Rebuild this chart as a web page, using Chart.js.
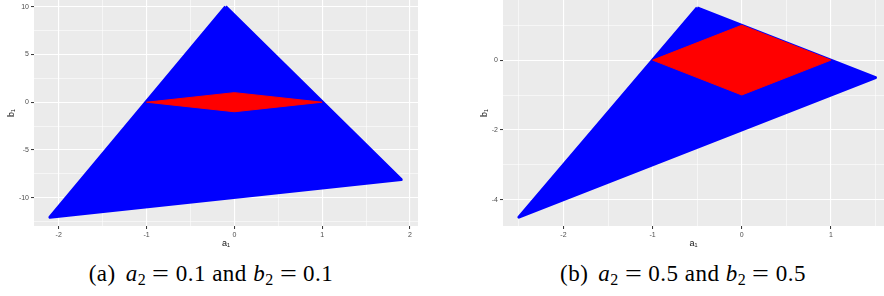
<!DOCTYPE html>
<html>
<head>
<meta charset="utf-8">
<script src="https://cdn.jsdelivr.net/npm/chart.js@4.4.0/dist/chart.umd.min.js"></script>
<style>
body { margin: 0; background: #fff; width: 884px; height: 296px; overflow: hidden; position: relative; }
canvas { position: absolute; top: 0; }
#chartA { left: 0; }
#chartB { left: 474px; }
.caption { position: absolute; top: 261px; font-family: "Liberation Serif", "DejaVu Serif", serif; font-size: 23px; letter-spacing: 0.5px; color: #000; text-align: center; white-space: nowrap; }
.caption sub { font-size: 16px; vertical-align: -4px; line-height: 0; }
.caption .eq { display: inline-block; margin: 0 8px; transform: scaleX(1.3); }
.caption .lbl { margin-right: 10px; }
#capA { left: 0; width: 422px; }
#capB { left: 474px; width: 418px; }
</style>
</head>
<body>
<canvas id="chartA" width="440" height="250"></canvas>
<canvas id="chartB" width="410" height="250"></canvas>
<div class="caption" id="capA"><span class="lbl">(a)</span><i>a</i><sub>2</sub><span class="eq">=</span>0.1 and <i>b</i><sub>2</sub><span class="eq">=</span>0.1</div>
<div class="caption" id="capB"><span class="lbl">(b)</span><i>a</i><sub>2</sub><span class="eq">=</span>0.5 and <i>b</i><sub>2</sub><span class="eq">=</span>0.5</div>
<script>
// panel (a): a2 = 0.1, b2 = 0.1
const xMajorA = [-2, -1, 0, 1, 2];
const xMinorA = [-1.5, -0.5, 0.5, 1.5];
const yMajorA = [-10, -5, 0, 5, 10];
const yMinorA = [-12.5, -7.5, -2.5, 2.5, 7.5];
const triXA = [-0.1, -2.1, 1.9];
const triYA = [10, -12.05, -8.1];

// panel (b): a2 = 0.5, b2 = 0.5
const xMajorB = [-2, -1, 0, 1];
const xMinorB = [-2.5, -1.5, -0.5, 0.5, 1.5];
const yMajorB = [-4, -2, 0];
const yMinorB = [-3, -1, 1];
const triXB = [-0.5, -2.5, 1.5];
const triYB = [1.5, -4.5, -0.5];

// red region, same in both panels
const diamondX = [-1, 0, 1, 0];
const diamondY = [0, 1, 0, -1];

function toPoints(xs, ys) {
    const pts = xs.map((x, i) => ({ x: x, y: ys[i] }));
    pts.push(pts[0]);
    return pts;
}

// ggplot grey panel
const panelBg = {
    id: 'panelBg',
    beforeDraw(chart) {
        const { ctx, chartArea: a } = chart;
        ctx.save();
        ctx.fillStyle = '#EBEBEB';
        ctx.fillRect(a.left, a.top, a.right - a.left, a.bottom - a.top);
        ctx.restore();
    }
};

function axis(major, minor, min, max, size, title, titlePad, horizontal) {
    const isMajor = c => c.tick && major.includes(c.tick.value);
    return {
        type: 'linear',
        min: min,
        max: max,
        border: { display: false },
        afterBuildTicks: s => {
            s.ticks = major.concat(minor).sort((p, q) => p - q).map(v => ({ value: v }));
        },
        afterFit: s => {
            if (horizontal) {
                s.height = size; s.paddingLeft = 0; s.paddingRight = 0;
            } else {
                s.width = size; s.paddingTop = 0; s.paddingBottom = 0;
            }
        },
        grid: {
            color: '#FFFFFF',
            lineWidth: c => isMajor(c) ? 1.1 : 0.55,
            tickColor: c => isMajor(c) ? '#333333' : 'rgba(0,0,0,0)',
            tickLength: 3,
            tickWidth: 1
        },
        ticks: {
            autoSkip: false,
            maxRotation: 0,
            padding: 2,
            color: '#4D4D4D',
            font: { family: 'Liberation Sans', size: 7 },
            callback: v => major.includes(v) ? String(v) : ''
        },
        title: {
            display: true,
            text: title,
            color: '#111',
            font: { family: 'Liberation Sans', size: 9 },
            padding: titlePad
        }
    };
}

function makeChart(id, tri, xAxis, yAxis, rightPad) {
    new Chart(document.getElementById(id), {
        type: 'line',
        data: {
            datasets: [{
                data: toPoints(diamondX, diamondY),
                borderColor: '#FF0000',
                backgroundColor: '#FF0000',
                borderWidth: 1,
                fill: 'shape',
                order: 0
            }, {
                data: tri,
                borderColor: '#0000FF',
                backgroundColor: '#0000FF',
                borderWidth: 3,
                borderJoinStyle: 'round',
                fill: 'shape',
                order: 1
            }]
        },
        options: {
            responsive: false,
            animation: false,
            elements: { point: { radius: 0 }, line: { tension: 0 } },
            layout: { padding: { top: 0, left: 0, bottom: 0, right: rightPad } },
            plugins: { legend: { display: false }, tooltip: { enabled: false } },
            scales: { x: xAxis, y: yAxis }
        },
        plugins: [panelBg]
    });
}

makeChart('chartA', toPoints(triXA, triYA),
    axis(xMajorA, xMinorA, -2.281, 2.091, 24, 'a\u2081', { top: 0, bottom: 0.6 }, true),
    axis(yMajorA, yMinorA, -12.96, 10.70, 34, 'b\u2081', { top: 6.5, bottom: 0 }, false),
    22);

makeChart('chartB', toPoints(triXB, triYB),
    axis(xMajorB, xMinorB, -2.678, 1.595, 24, 'a\u2081', { top: 0, bottom: 0.6 }, true),
    axis(yMajorB, yMinorB, -4.754, 1.723, 29, 'b\u2081', { top: 5.5, bottom: 0 }, false),
    0);
</script>
</body>
</html>
